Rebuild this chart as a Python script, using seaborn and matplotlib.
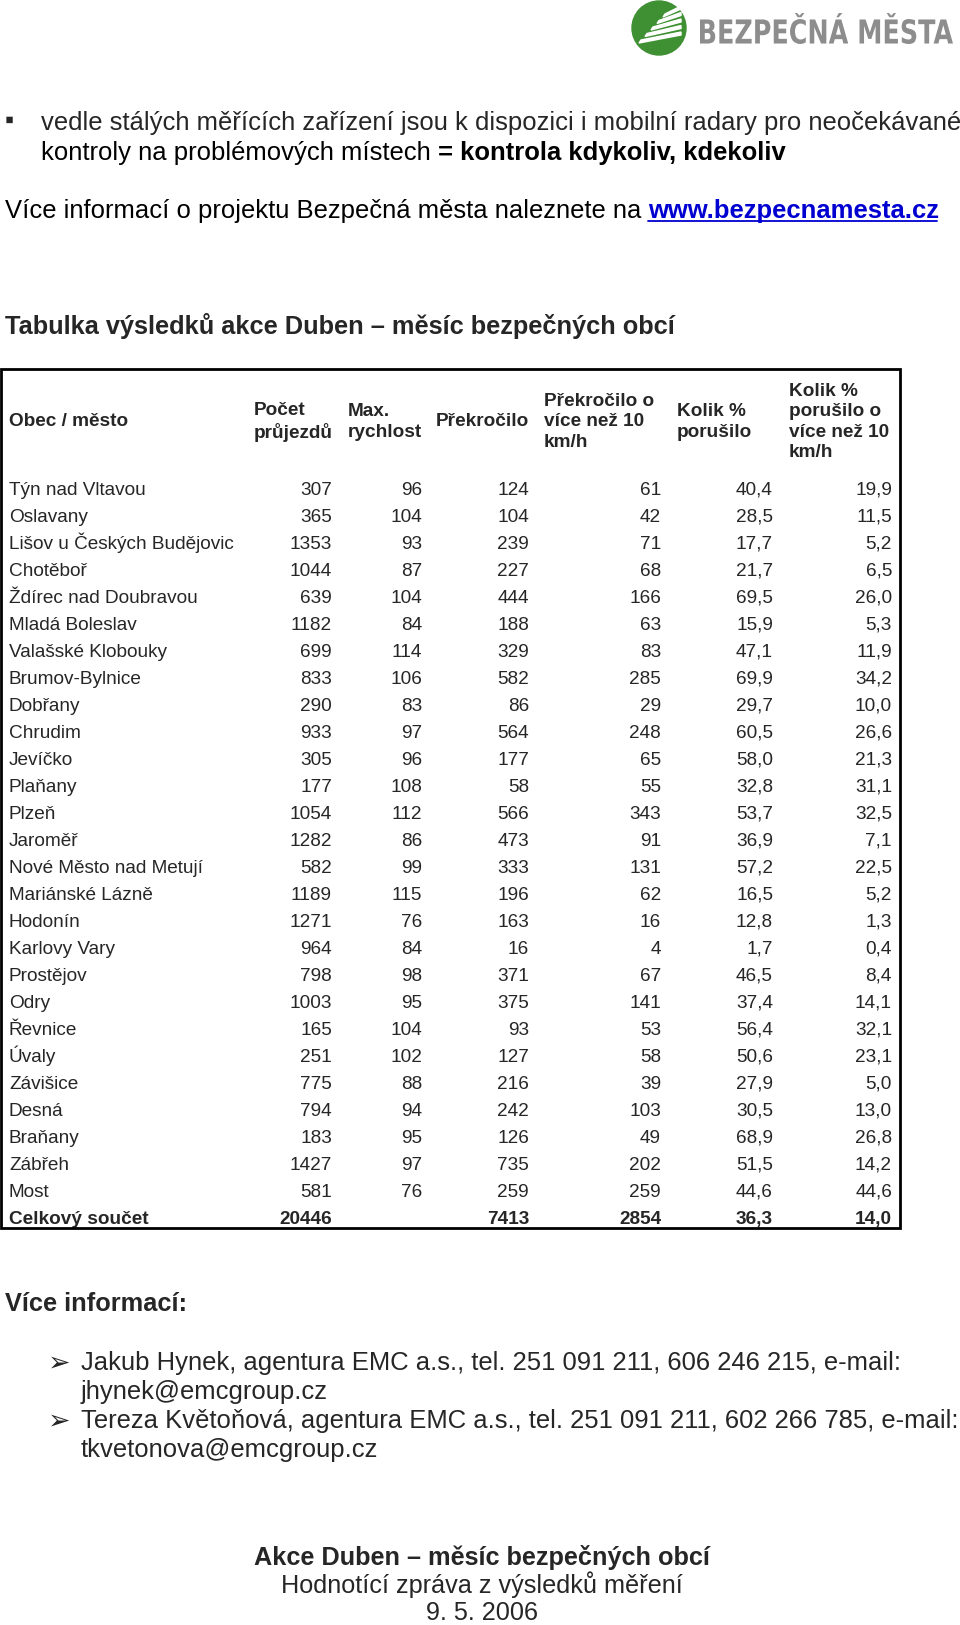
import numpy as np
import seaborn as sns
import matplotlib.pyplot as plt
from matplotlib.patches import Rectangle, Circle, Polygon, PathPatch
from matplotlib.textpath import TextPath
from matplotlib.font_manager import FontProperties
from matplotlib.transforms import Affine2D

sns.set_theme(style='white')
plt.rcParams['font.family'] = ['Liberation Sans', 'DejaVu Sans']

# table data
towns = ['Týn nad Vltavou', 'Oslavany', 'Lišov u Českých Budějovic', 'Chotěboř',
         'Ždírec nad Doubravou', 'Mladá Boleslav', 'Valašské Klobouky', 'Brumov-Bylnice',
         'Dobřany', 'Chrudim', 'Jevíčko', 'Plaňany', 'Plzeň', 'Jaroměř',
         'Nové Město nad Metují', 'Mariánské Lázně', 'Hodonín', 'Karlovy Vary',
         'Prostějov', 'Odry', 'Řevnice', 'Úvaly', 'Závišice', 'Desná', 'Braňany',
         'Zábřeh', 'Most']
passes = [307, 365, 1353, 1044, 639, 1182, 699, 833, 290, 933, 305, 177, 1054, 1282,
          582, 1189, 1271, 964, 798, 1003, 165, 251, 775, 794, 183, 1427, 581]
max_speed = [96, 104, 93, 87, 104, 84, 114, 106, 83, 97, 96, 108, 112, 86,
             99, 115, 76, 84, 98, 95, 104, 102, 88, 94, 95, 97, 76]
exceeded = [124, 104, 239, 227, 444, 188, 329, 582, 86, 564, 177, 58, 566, 473,
            333, 196, 163, 16, 371, 375, 93, 127, 216, 242, 126, 735, 259]
exceeded10 = [61, 42, 71, 68, 166, 63, 83, 285, 29, 248, 65, 55, 343, 91,
              131, 62, 16, 4, 67, 141, 53, 58, 39, 103, 49, 202, 259]
pct = [40.4, 28.5, 17.7, 21.7, 69.5, 15.9, 47.1, 69.9, 29.7, 60.5, 58.0, 32.8, 53.7, 36.9,
       57.2, 16.5, 12.8, 1.7, 46.5, 37.4, 56.4, 50.6, 27.9, 30.5, 68.9, 51.5, 44.6]
pct10 = [19.9, 11.5, 5.2, 6.5, 26.0, 5.3, 11.9, 34.2, 10.0, 26.6, 21.3, 31.1, 32.5, 7.1,
         22.5, 5.2, 1.3, 0.4, 8.4, 14.1, 32.1, 23.1, 5.0, 13.0, 26.8, 14.2, 44.6]
total_label = 'Celkový součet'
totals = [20446, None, 7413, 2854, 36.3, 14.0]

headers = ['Obec / město', 'Počet\nprůjezdů', 'Max.\nrychlost', 'Překročilo',
           'Překročilo o\nvíce než 10\nkm/h', 'Kolik %\nporušilo',
           'Kolik %\nporušilo o\nvíce než 10\nkm/h']

contacts = [('Jakub Hynek, agentura EMC a.s., tel. 251 091 211, 606 246 215, e-mail:', 'jhynek@emcgroup.cz'),
            ('Tereza Květoňová, agentura EMC a.s., tel. 251 091 211, 602 266 785, e-mail:', 'tkvetonova@emcgroup.cz')]


def fmt(v):
    if v is None:
        return ''
    if isinstance(v, float):
        return f'{v:.1f}'.replace('.', ',')
    return str(v)


fig = plt.figure(figsize=(9.6, 16.25), dpi=100)
ax = fig.add_axes([0, 0, 1, 1])
ax.set_xlim(0, 960)
ax.set_ylim(1625, 0)
ax.axis('off')
rend = fig.canvas.get_renderer()


def txt(x, y, s, size, **kw):
    # y is the middle of the capital letters, text sits on its baseline
    return ax.text(x, y + 0.358 * size / 0.72, s, fontsize=size, va='baseline', **kw)


def fit(t, width, y):
    w = t.get_window_extent(rend).width
    size = t.get_fontsize() * width / w
    t.set_fontsize(size)
    t.set_y(y + 0.358 * size / 0.72)
    return size


def run(parts, x, y, size):
    # draw text pieces one after another on one line
    for s, weight, color in parts:
        t = txt(x, y, s.strip(), size, fontweight=weight, color=color)
        bb = t.get_window_extent(rend)
        if s.endswith(' '):
            x = bb.x1 + size / 0.72 * 0.278
        else:
            x = bb.x1
        last = (t, bb)
    return last


# --- logo ---
cx, cy, r = 659, 28, 27
ax.add_patch(Circle((cx, cy), r, color='#3f8f33', zorder=2))
for k in range(5):
    y0 = cy + 15 - k * 6.5
    xl = cx - 20 + k * 6
    xr = cx + 22
    ax.add_patch(Polygon([(xl, y0), (xr, y0 - 8), (xr, y0 - 11), (xl + 2, y0 - 3)],
                         closed=True, color='white', zorder=3))
tp = TextPath((0, 0), 'BEZPEČNÁ MĚSTA', size=1,
              prop=FontProperties(family=['DejaVu Sans'], weight='bold'))
ext = tp.get_extents()
tr = (Affine2D().translate(-ext.x0, -ext.y0)
      .scale(253 / ext.width, -31 / ext.height).translate(700, 44))
ax.add_patch(PathPatch(tr.transform_path(tp), facecolor='#8d8d8d', edgecolor='none'))

# --- intro text ---
t1 = txt(41, 121, 'vedle stálých měřících zařízení jsou k dispozici i mobilní radary pro neočekávané', 16)
body = fit(t1, 918, 121)
txt(5, 119, '▪', body)
run([('kontroly na problémových místech ', 'normal', 'black'),
     ('= kontrola kdykoliv, kdekoliv', 'bold', 'black')], 41, 151, body)
lt, lb = run([('Více informací o projektu Bezpečná města naleznete na ', 'normal', 'black'),
              ('www.bezpecnamesta.cz', 'bold', '#0000d0')], 5, 209, body)
ax.plot([lb.x0, lb.x1 - 2], [221, 221], color='#0000d0', lw=1.3)

tt = txt(5, 325, 'Tabulka výsledků akce Duben – měsíc bezpečných obcí', 16, fontweight='bold')
head_size = fit(tt, 670, 325)

# --- table ---
ax.add_patch(Rectangle((1, 369), 899, 859, fill=False, edgecolor='black', lw=2, zorder=4))
fs = 13.7
head_x = [9, 254, 348, 436, 544, 677, 789]
for hx, h in zip(head_x, headers):
    ax.text(hx, 422, h, fontsize=fs, fontweight='bold', va='center', ha='left',
            linespacing=1.28)

right_x = [332, 422, 529, 661, 773, 892]
cols = [passes, max_speed, exceeded, exceeded10, pct, pct10]
for i, town in enumerate(towns):
    y = 488 + i * 27
    txt(9, y, town, fs)
    for rx, col in zip(right_x, cols):
        txt(rx, y, fmt(col[i]), fs, ha='right')
y = 488 + len(towns) * 27
txt(9, y, total_label, fs, fontweight='bold')
for rx, v in zip(right_x, totals):
    txt(rx, y, fmt(v), fs, fontweight='bold', ha='right')

# --- contacts ---
txt(5, 1302, 'Více informací:', head_size, fontweight='bold')
for j, (line1, line2) in enumerate(contacts):
    y = 1361 + j * 58
    txt(48, y, '➢', body * 1.05, family=['DejaVu Sans'])
    txt(81, y, line1, body)
    txt(81, y + 29, line2, body)

# --- footer ---
ft = txt(482, 1556, 'Akce Duben – měsíc bezpečných obcí', 16, fontweight='bold', ha='center')
fit(ft, 456, 1556)
f2 = txt(482, 1584, 'Hodnotící zpráva z výsledků měření', 16, ha='center')
fsz = fit(f2, 401, 1584)
txt(482, 1611, '9. 5. 2006', fsz, ha='center')

fig.savefig('out.png', dpi=100, facecolor='white')
